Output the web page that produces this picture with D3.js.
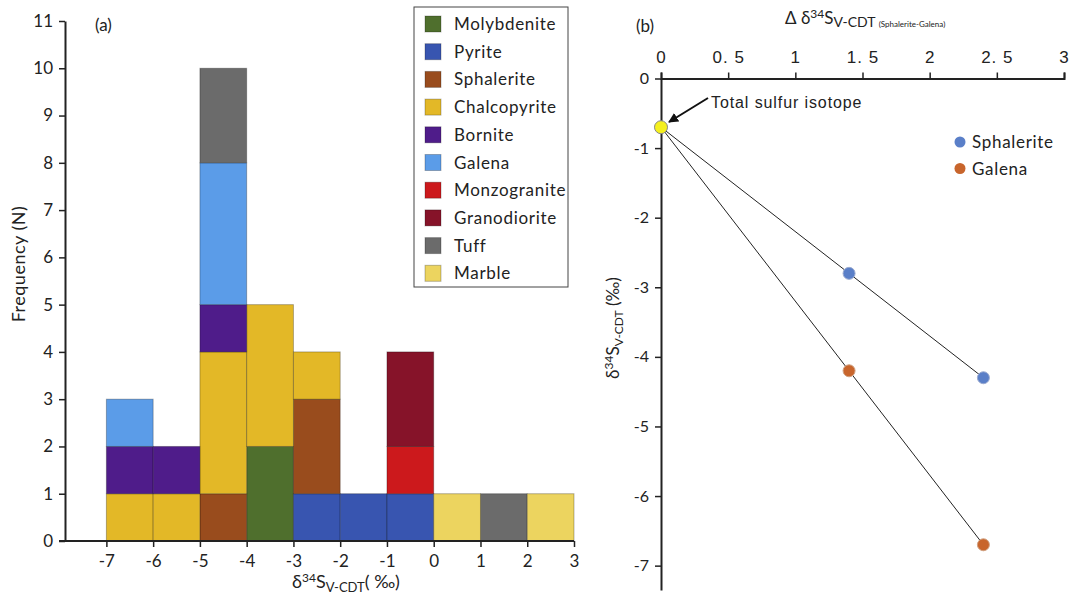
<!DOCTYPE html>
<html>
<head>
<meta charset="utf-8">
<script src="https://cdnjs.cloudflare.com/ajax/libs/d3/7.8.5/d3.min.js"></script>
<style>
  body { margin: 0; background: #fff; }
  svg { display: block; }
  .cal { font-family: Lato, 'Open Sans', sans-serif; fill: #222; }
  .ari { font-family: 'Liberation Sans', Arial, sans-serif; fill: #222; }
</style>
</head>
<body>
<svg id="chart" width="1071" height="594"></svg>
<script>

// ---- panel (a): histogram bins (left edge of each 1 permil bin)
var binStarts = [-7, -6, -5, -4, -3, -2, -1, 0, 1, 2];
var minerals = ["Molybdenite", "Pyrite", "Sphalerite", "Chalcopyrite", "Bornite",
                "Galena", "Monzogranite", "Granodiorite", "Tuff", "Marble"];
var colors = ["#4f6f2d", "#3855b0", "#994c1d", "#e3b827", "#4f1c8a",
              "#5b9ce8", "#cc191c", "#861329", "#6b6b6b", "#ecd45f"];

var molybdenite  = [0, 0, 0, 2, 0, 0, 0, 0, 0, 0];
var pyrite       = [0, 0, 0, 0, 1, 1, 1, 0, 0, 0];
var sphalerite   = [0, 0, 1, 0, 2, 0, 0, 0, 0, 0];
var chalcopyrite = [1, 1, 3, 3, 1, 0, 0, 0, 0, 0];
var bornite      = [1, 1, 1, 0, 0, 0, 0, 0, 0, 0];
var galena       = [1, 0, 3, 0, 0, 0, 0, 0, 0, 0];
var monzogranite = [0, 0, 0, 0, 0, 0, 1, 0, 0, 0];
var granodiorite = [0, 0, 0, 0, 0, 0, 2, 0, 0, 0];
var tuff         = [0, 0, 2, 0, 0, 0, 0, 0, 1, 0];
var marble       = [0, 0, 0, 0, 0, 0, 0, 1, 0, 1];

var xTicksA = [-7, -6, -5, -4, -3, -2, -1, 0, 1, 2, 3];
var yTicksA = [0, 1, 2, 3, 4, 5, 6, 7, 8, 9, 10, 11];

// ---- panel (b): sulfur isotope equilibrium
var totalSulfur = [0, -0.7];
var sphaleriteB = [[1.4, -2.8], [2.4, -4.3]];
var galenaB     = [[1.4, -4.2], [2.4, -6.7]];
var xTicksB = [0, 0.5, 1, 1.5, 2, 2.5, 3];
var xTickLabelsB = ["0", "0. 5", "1", "1. 5", "2", "2. 5", "3"];
var yTicksB = [0, -1, -2, -3, -4, -5, -6, -7];

var hyphen = function(d) { return String(d).replace("\u2212", "-"); };

var svg = d3.select("#chart");

// ================= panel (a) =================
var rows = binStarts.map(function(b, i) {
  return {
    bin: b,
    Molybdenite: molybdenite[i], Pyrite: pyrite[i], Sphalerite: sphalerite[i],
    Chalcopyrite: chalcopyrite[i], Bornite: bornite[i], Galena: galena[i],
    Monzogranite: monzogranite[i], Granodiorite: granodiorite[i],
    Tuff: tuff[i], Marble: marble[i]
  };
});
var series = d3.stack().keys(minerals)(rows);
var color = d3.scaleOrdinal().domain(minerals).range(colors);

var xA = d3.scaleLinear().domain([-7.885, 3]).range([65, 574]);
var yA = d3.scaleLinear().domain([0, 11]).range([541, 21]);

var ga = svg.append("g");
ga.selectAll("g.layer")
  .data(series)
  .join("g")
  .attr("class", "layer")
  .attr("fill", function(d) { return color(d.key); })
  .selectAll("rect")
  .data(function(d) { return d.filter(function(s) { return s[1] > s[0]; }); })
  .join("rect")
  .attr("x", function(d) { return xA(d.data.bin); })
  .attr("width", function(d) { return xA(d.data.bin + 1) - xA(d.data.bin); })
  .attr("y", function(d) { return yA(d[1]); })
  .attr("height", function(d) { return yA(d[0]) - yA(d[1]); })
  .attr("stroke", "rgba(0,0,0,0.28)")
  .attr("stroke-width", 1);

var axA_y = ga.append("g")
  .attr("transform", "translate(65,0)")
  .call(d3.axisLeft(yA).tickValues(yTicksA).tickSize(6).tickSizeOuter(0).tickPadding(6));
var axA_x = ga.append("g")
  .attr("transform", "translate(0,541)")
  .call(d3.axisBottom(xA).tickValues(xTicksA).tickSize(6).tickSizeOuter(0).tickPadding(8)
    .tickFormat(function(d) { return hyphen(d); }));
[axA_y, axA_x].forEach(function(a) {
  a.select(".domain").attr("stroke", "#222").attr("stroke-width", 2);
  a.selectAll(".tick line").attr("stroke", "#222").attr("stroke-width", 1.5);
  a.selectAll("text").attr("class", "cal").attr("font-size", 17);
});
axA_x.select(".domain").attr("d", "M59,0H574");

ga.append("text").attr("class", "cal").attr("font-size", 17)
  .attr("x", 95).attr("y", 31).text("(a)");

ga.append("text").attr("class", "cal").attr("font-size", 18).attr("letter-spacing", 0.5)
  .attr("transform", "translate(25,264) rotate(-90)")
  .attr("text-anchor", "middle").text("Frequency (N)");

var xl = ga.append("text").attr("class", "cal").attr("font-size", 18)
  .attr("x", 346).attr("y", 588).attr("text-anchor", "middle");
xl.append("tspan").text("δ");
xl.append("tspan").attr("dy", -6).attr("font-size", 12).text("34");
xl.append("tspan").attr("dy", 6).text("S");
xl.append("tspan").attr("dy", 4).attr("font-size", 13).text("V-CDT");
xl.append("tspan").attr("dy", -4).text("( ‰)");

// legend (a)
ga.append("rect").attr("x", 414).attr("y", 7).attr("width", 154).attr("height", 280)
  .attr("fill", "#fff").attr("stroke", "#444").attr("stroke-width", 1);
var lg = ga.selectAll("g.leg").data(minerals).join("g").attr("class", "leg")
  .attr("transform", function(d, i) { return "translate(425," + (16 + i * 27.7) + ")"; });
lg.append("rect").attr("width", 16).attr("height", 16)
  .attr("fill", function(d) { return color(d); })
  .attr("stroke", "rgba(0,0,0,0.25)");
lg.append("text").attr("class", "cal").attr("font-size", 17).attr("letter-spacing", 0.7)
  .attr("x", 29).attr("y", 14).text(function(d) { return d; });

// ================= panel (b) =================
var xB = d3.scaleLinear().domain([0, 3]).range([661, 1064]);
var yB = d3.scaleLinear().domain([-7.35, 0]).range([590, 78.5]);

var gb = svg.append("g");
var axB_x = gb.append("g")
  .attr("transform", "translate(0," + yB(0) + ")")
  .call(d3.axisTop(xB).tickValues(xTicksB).tickSize(6).tickSizeOuter(6).tickPadding(10)
    .tickFormat(function(d, i) { return xTickLabelsB[i]; }));
var axB_y = gb.append("g")
  .attr("transform", "translate(661,0)")
  .call(d3.axisLeft(yB).tickValues(yTicksB).tickSize(6).tickSizeOuter(0).tickPadding(6)
    .tickFormat(function(d) { return hyphen(d); }));
[axB_x, axB_y].forEach(function(a) {
  a.select(".domain").attr("stroke", "#222").attr("stroke-width", 2);
  a.selectAll(".tick line").attr("stroke", "#222").attr("stroke-width", 1.5);
});
axB_x.selectAll("text").attr("class", "ari").attr("font-size", 17)
  .attr("letter-spacing", 1);
axB_y.selectAll("text").attr("class", "cal").attr("font-size", 16);

gb.append("text").attr("class", "cal").attr("font-size", 17)
  .attr("x", 636).attr("y", 32).text("(b)");

var tb = gb.append("text").attr("class", "cal").attr("font-size", 17)
  .attr("x", 785).attr("y", 24);
tb.append("tspan").text("Δ δ");
tb.append("tspan").attr("dy", -6).attr("font-size", 12).text("34");
tb.append("tspan").attr("dy", 6).text("S");
tb.append("tspan").attr("dy", 3).attr("font-size", 14).text("V-CDT ");
tb.append("tspan").attr("font-size", 8).text(" (Sphalerite-Galena)");

var yl = gb.append("text").attr("class", "cal").attr("font-size", 17)
  .attr("transform", "translate(619,328) rotate(-90)").attr("text-anchor", "middle");
yl.append("tspan").text("δ");
yl.append("tspan").attr("dy", -6).attr("font-size", 12).text("34");
yl.append("tspan").attr("dy", 6).text("S");
yl.append("tspan").attr("dy", 4).attr("font-size", 12).text("V-CDT");
yl.append("tspan").attr("dy", -4).text(" (‰)");

// trend lines from the total sulfur value
var line = d3.line().x(function(d) { return xB(d[0]); }).y(function(d) { return yB(d[1]); });
[sphaleriteB, galenaB].forEach(function(s) {
  gb.append("path")
    .attr("d", line([totalSulfur, s[s.length - 1]]))
    .attr("fill", "none").attr("stroke", "#222").attr("stroke-width", 1);
});

gb.selectAll("circle.sph").data(sphaleriteB).join("circle").attr("class", "sph")
  .attr("cx", function(d) { return xB(d[0]); }).attr("cy", function(d) { return yB(d[1]); })
  .attr("r", 6).attr("fill", "#5a7fc8").attr("stroke", "#9aaad0").attr("stroke-width", 1);
gb.selectAll("circle.gal").data(galenaB).join("circle").attr("class", "gal")
  .attr("cx", function(d) { return xB(d[0]); }).attr("cy", function(d) { return yB(d[1]); })
  .attr("r", 6).attr("fill", "#c8652c").attr("stroke", "#d0a080").attr("stroke-width", 1);

gb.append("circle")
  .attr("cx", xB(totalSulfur[0])).attr("cy", yB(totalSulfur[1]))
  .attr("r", 6.5).attr("fill", "#f5f01e").attr("stroke", "#888").attr("stroke-width", 1);

// annotation arrow
svg.append("defs").append("marker")
  .attr("id", "ah").attr("viewBox", "0 0 10 10").attr("refX", 9).attr("refY", 5)
  .attr("markerWidth", 5).attr("markerHeight", 5).attr("orient", "auto")
  .append("path").attr("d", "M0,0L10,5L0,10z").attr("fill", "#111");
gb.append("line")
  .attr("x1", 708).attr("y1", 98).attr("x2", 669).attr("y2", 122)
  .attr("stroke", "#111").attr("stroke-width", 2).attr("marker-end", "url(#ah)");
gb.append("text").attr("class", "ari").attr("font-size", 16).attr("letter-spacing", 0.9)
  .attr("x", 711).attr("y", 108).text("Total sulfur isotope");

// legend (b)
var lb = gb.selectAll("g.legb").data([["Sphalerite", "#5a7fc8"], ["Galena", "#c8652c"]])
  .join("g").attr("class", "legb")
  .attr("transform", function(d, i) { return "translate(960," + (142 + i * 26.5) + ")"; });
lb.append("circle").attr("r", 5.5).attr("fill", function(d) { return d[1]; });
lb.append("text").attr("class", "cal").attr("font-size", 17).attr("letter-spacing", 0.7)
  .attr("x", 12).attr("y", 6).text(function(d) { return d[0]; });

</script>
</body>
</html>
